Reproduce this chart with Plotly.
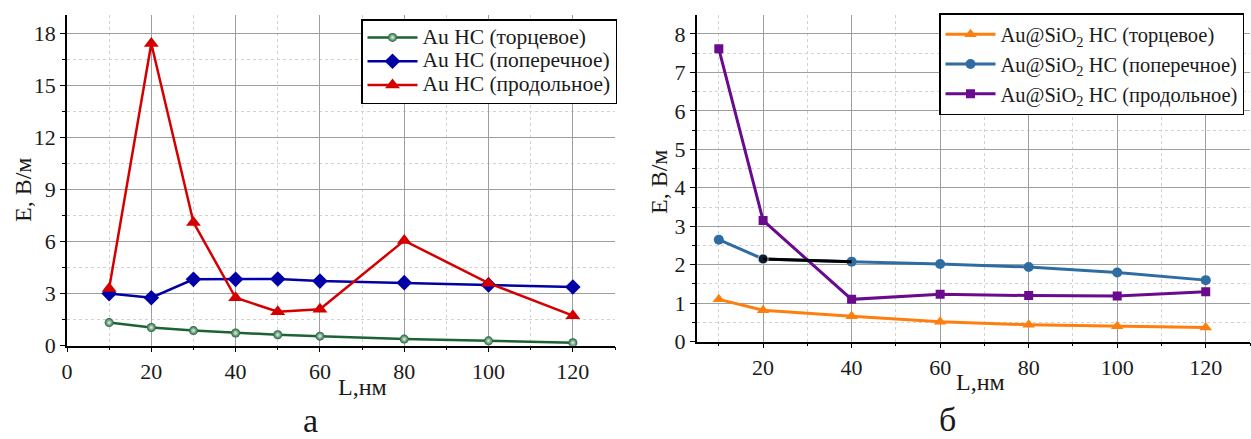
import plotly.graph_objects as go

# Lengths, nm
L_au = [10, 20, 30, 40, 50, 60, 80, 100, 120]
L_sio2 = [10, 20, 40, 60, 80, 100, 120]

# Au nanostructures, E (V/m)
au_end = [1.33, 1.05, 0.87, 0.73, 0.63, 0.55, 0.38, 0.28, 0.17]
au_cross = [3.0, 2.76, 3.82, 3.82, 3.84, 3.72, 3.63, 3.5, 3.38]
au_long = [3.3, 17.4, 7.1, 2.76, 1.96, 2.1, 6.05, 3.6, 1.73]

# Au@SiO2 nanostructures, E (V/m)
sio2_end = [1.1, 0.82, 0.66, 0.52, 0.44, 0.4, 0.37]
sio2_cross = [2.65, 2.15, 2.08, 2.02, 1.94, 1.8, 1.6]
sio2_long = [7.61, 3.15, 1.1, 1.23, 1.2, 1.19, 1.3]

names_au = ["Au НС (торцевое)", "Au НС (поперечное)", "Au НС (продольное)"]
names_sio2 = ["Au@SiO<sub>2</sub> НС (торцевое)",
              "Au@SiO<sub>2</sub> НС (поперечное)",
              "Au@SiO<sub>2</sub> НС (продольное)"]

FONT = "Liberation Serif"
W, H = 1251, 439


def big_label(s, px):
    # larger glyphs inside a legend whose row pitch follows the base font
    return f'<span style="font-size:{px}px">{s}</span>'


fig = go.Figure()

# Panel (а)
fig.add_trace(go.Scatter(
    x=L_au, y=au_end, name=big_label(names_au[0], 21.5), mode="lines+markers",
    line=dict(color="#1b6234", width=2.5),
    marker=dict(symbol="circle", size=9, color="#1b6234",
                gradient=dict(type="radial", color="#e8f2ea"),
                line=dict(width=0)),
    xaxis="x", yaxis="y", legend="legend"))
fig.add_trace(go.Scatter(
    x=L_au, y=au_cross, name=big_label(names_au[1], 21.5), mode="lines+markers",
    line=dict(color="#0000a6", width=2.5),
    marker=dict(symbol="diamond", size=12, color="#0000a6"),
    xaxis="x", yaxis="y", legend="legend"))
fig.add_trace(go.Scatter(
    x=L_au, y=au_long, name=big_label(names_au[2], 21.5), mode="lines+markers",
    line=dict(color="#d40000", width=2.5),
    marker=dict(symbol="triangle-up", size=13, color="#d40000"),
    xaxis="x", yaxis="y", legend="legend"))

# Panel (б)
fig.add_trace(go.Scatter(
    x=L_sio2, y=sio2_end, name=names_sio2[0], mode="lines+markers",
    line=dict(color="#ff7f0e", width=3),
    marker=dict(symbol="triangle-up", size=11, color="#ff7f0e"),
    xaxis="x2", yaxis="y2", legend="legend2"))
fig.add_trace(go.Scatter(
    x=L_sio2, y=sio2_cross, name=names_sio2[1], mode="lines+markers",
    line=dict(color="#2f6ca3", width=3),
    marker=dict(symbol="circle", size=10, color="#2f6ca3"),
    xaxis="x2", yaxis="y2", legend="legend2"))
fig.add_trace(go.Scatter(
    x=L_sio2, y=sio2_long, name=names_sio2[2], mode="lines+markers",
    line=dict(color="#6a0a8c", width=3),
    marker=dict(symbol="square", size=9, color="#6a0a8c"),
    xaxis="x2", yaxis="y2", legend="legend2"))
# highlighted segment of the transverse curve between 20 and 40 nm
fig.add_trace(go.Scatter(
    x=L_sio2[1:3], y=sio2_cross[1:3], mode="lines+markers", showlegend=False,
    line=dict(color="#000000", width=3),
    marker=dict(symbol="circle", size=[10, 0], color="#000000"),
    xaxis="x2", yaxis="y2"))

def xa(domain, rng, **kw):
    return dict(domain=domain, range=rng, dtick=20, tick0=0, automargin=False,
                showline=True, linecolor="black", linewidth=1.5,
                ticks="outside", ticklen=5, tickcolor="black",
                showgrid=True, gridcolor="#9e9e9e", gridwidth=1.2,
                minor=dict(dtick=10, tick0=0, showgrid=True, gridcolor="#d2d2d2",
                           griddash="dot", gridwidth=1, ticks="outside",
                           ticklen=3, tickcolor="black"),
                zeroline=False, mirror=False,
                tickfont=dict(family=FONT, size=22, color="#1a1a1a"), **kw)

def ya(domain, rng, dt, **kw):
    return dict(domain=domain, range=rng, dtick=dt, tick0=0, automargin=False,
                showline=True, linecolor="black", linewidth=1.5,
                ticks="outside", ticklen=5, tickcolor="black",
                showgrid=True, gridcolor="#9e9e9e", gridwidth=1.2,
                minor=dict(dtick=dt / 2, tick0=0, showgrid=True, gridcolor="#d2d2d2",
                           griddash="dot", gridwidth=1, ticks="outside",
                           ticklen=3, tickcolor="black"),
                zeroline=False, mirror=False,
                tickfont=dict(family=FONT, size=22, color="#1a1a1a"), **kw)

fig.update_layout(
    width=W, height=H,
    margin=dict(l=0, r=0, t=0, b=0),
    paper_bgcolor="white", plot_bgcolor="white",
    font=dict(family=FONT, color="#1a1a1a"),
    xaxis=xa([67 / W, 615 / W], [0, 130], anchor="y"),
    yaxis=ya([93.3 / H, 424 / H], [0, 19.04], 3, anchor="x"),
    xaxis2=xa([696.7 / W, 1250 / W], [5, 130], anchor="y2"),
    yaxis2=ya([97.3 / H, 424 / H], [0, 8.49], 1, anchor="x2"),
    legend=dict(x=361 / W, y=1 - 19 / H, xanchor="left", yanchor="top",
                bgcolor="white", bordercolor="black", borderwidth=1.5,
                font=dict(family=FONT, size=16, color="#1a1a1a"),
                itemwidth=50, tracegroupgap=0),
    legend2=dict(x=939 / W, y=1 - 13 / H, xanchor="left", yanchor="top",
                 bgcolor="white", bordercolor="black", borderwidth=1.5,
                 font=dict(family=FONT, size=20.5, color="#1a1a1a"),
                 itemwidth=50, tracegroupgap=0),
)

ann = dict(xref="paper", yref="paper", showarrow=False,
           xanchor="center", yanchor="middle",
           font=dict(family=FONT, size=24, color="#1a1a1a"))
fig.add_annotation(text="E, В/м", x=23 / W, y=1 - 190 / H, textangle=-90, **ann)
fig.add_annotation(text="E, В/м", x=659 / W, y=1 - 182 / H, textangle=-90, **ann)
fig.add_annotation(text="L,нм", x=363 / W, y=1 - 387 / H, **ann)
fig.add_annotation(text="L,нм", x=980 / W, y=1 - 382 / H, **ann)
big = dict(ann)
big["font"] = dict(family=FONT, size=34, color="#1a1a1a")
fig.add_annotation(text="а", x=310 / W, y=1 - 420 / H, **big)
fig.add_annotation(text="б", x=947 / W, y=1 - 419 / H, **big)

fig.write_html("out.html")
